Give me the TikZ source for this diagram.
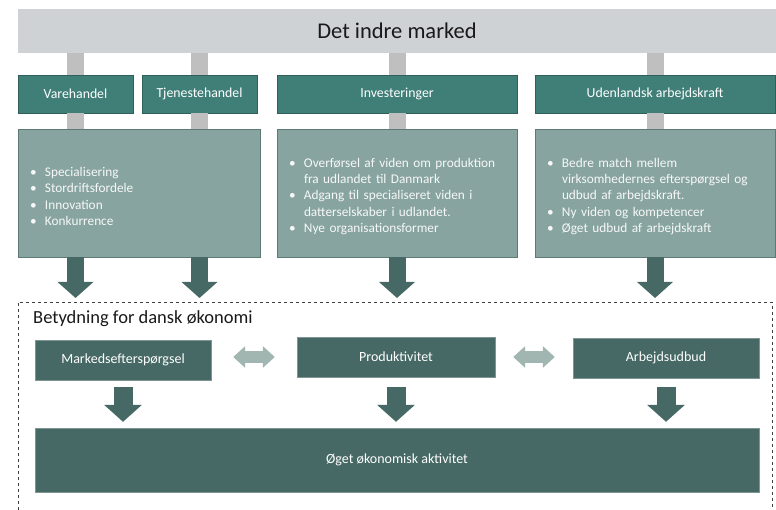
\documentclass[tikz,border=0pt]{standalone}
\usepackage{fontspec}
\setmainfont{Carlito}
\usetikzlibrary{arrows.meta}

\definecolor{barGrey}{HTML}{CFD2D4}
\definecolor{linkGrey}{HTML}{BFBFBF}
\definecolor{headTeal}{HTML}{3F7F78}
\definecolor{headEdge}{HTML}{2E5F59}
\definecolor{effFill}{HTML}{88A4A0}
\definecolor{effEdge}{HTML}{5E7A76}
\definecolor{darkTeal}{HTML}{466965}
\definecolor{paleTeal}{HTML}{A2B6B1}

% bullet line with hanging indent
\newcommand{\pkt}[1]{\par\hangindent=15pt\hangafter=1\noindent\makebox[15pt][l]{\textbullet}#1}

\tikzset{
    headbox/.style={draw=headEdge, fill=headTeal, text=white, minimum height=38pt,
        inner sep=0pt, font=\fontsize{13.8}{16}\selectfont},
    effbox/.style={draw=effEdge, fill=effFill, text=white!92!effFill, minimum height=128pt,
        inner xsep=12pt, align=left, font=\fontsize{13.3}{16.2}\selectfont},
    resbox/.style={draw=darkTeal!70!white, fill=darkTeal, text=white, inner sep=0pt,
        font=\fontsize{14}{16}\selectfont},
    link/.style={linkGrey, line width=17pt},
    down/.style={darkTeal, line width=17pt, -{Triangle[width=35pt,length=16pt]}},
    downbig/.style={darkTeal, line width=19pt, -{Triangle[width=37pt,length=17pt]},
        shorten <=7pt, shorten >=6pt},
    twoway/.style={paleTeal, line width=11pt,
        {Triangle[width=21pt,length=12pt]}-{Triangle[width=21pt,length=12pt]}},
    frame/.style={draw=black!75, dashed, line width=0.6pt}
}

\begin{document}
\begin{tikzpicture}[x=1pt, y=-1pt]
    \useasboundingbox (0,0) rectangle (776,510);

    % det indre marked
    \node (top) [fill=barGrey, minimum width=758pt, minimum height=44pt, inner sep=0pt,
        font=\fontsize{22.5}{26}\selectfont, text=black!90] at (397,31) {Det indre marked};

    \node (vare) [headbox, minimum width=115pt] at (75.5,94) {Varehandel};
    \node (tjen) [headbox, minimum width=115pt] at (199.5,94) {Tjenestehandel};
    \node (inv)  [headbox, minimum width=240pt] at (397,94) {Investeringer};
    \node (udl)  [headbox, minimum width=240pt] at (655,94) {Udenlandsk arbejdskraft};

    \node (eff1) [effbox, text width=218pt] at (139,193) {%
        \pkt{Specialisering}
        \pkt{Stordriftsfordele}
        \pkt{Innovation}
        \pkt{Konkurrence}};
    \node (eff2) [effbox, text width=216pt] at (397,193) {%
        \pkt{Overførsel af viden om produktion\newline fra udlandet til Danmark}
        \pkt{Adgang til specialiseret viden i\newline datterselskaber i udlandet.}
        \pkt{Nye organisationsformer}};
    \node (eff3) [effbox, text width=216pt] at (655,193) {%
        \pkt{Bedre match mellem\newline virksomhedernes efterspørgsel og\newline udbud af arbejdskraft.}
        \pkt{Ny viden og kompetencer}
        \pkt{Øget udbud af arbejdskraft}};

    % grey links
    \foreach \h/\e in {vare/eff1, tjen/eff1, inv/eff2, udl/eff3} {
        \draw [link] (\h.north |- top.south) -- (\h.north);
        \draw [link] (\h.south) -- (\h.south |- \e.north);
    }

    % betydning for dansk oekonomi
    \draw [frame] (18,510) |- (772,302) -- (772,510);
    \coordinate (ftop) at (0,298);
    \foreach \h/\e in {vare/eff1, tjen/eff1, inv/eff2, udl/eff3}
        \draw [down] (\h |- \e.south) -- (\h |- ftop);

    \node (title) [anchor=west, inner sep=0pt, font=\fontsize{18.5}{21}\selectfont, text=black!90]
        at (33,319) {Betydning for dansk økonomi};

    \node (mark) [resbox, minimum width=176pt, minimum height=40pt] at (123,360) {Markedsefterspørgsel};
    \node (prod) [resbox, minimum width=198pt, minimum height=40pt] at (396,357) {Produktivitet};
    \node (arb)  [resbox, minimum width=186pt, minimum height=40pt] at (666,358) {Arbejdsudbud};
    \node (total) [resbox, minimum width=724pt, minimum height=64pt] at (397,460) {Øget økonomisk aktivitet};

    \draw [twoway, shorten <=22pt, shorten >=22pt] (mark.east |- 0,357) -- (prod.west);
    \draw [twoway, shorten <=18pt, shorten >=18pt] (prod.east) -- (arb.west |- 0,357);

    \draw [downbig] (mark.south) -- (mark.south |- total.north);
    \draw [downbig, shorten <=10pt] (prod.south) -- (prod.south |- total.north);
    \draw [downbig, shorten <=9pt] (arb.south) -- (arb.south |- total.north);
\end{tikzpicture}
\end{document}
